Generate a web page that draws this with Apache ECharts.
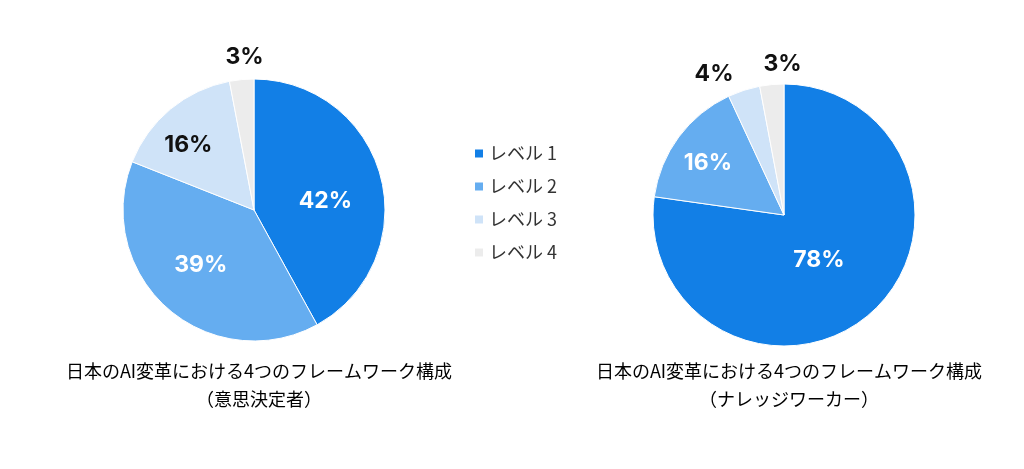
<!DOCTYPE html>
<html>
<head>
<meta charset="utf-8">
<script src="https://cdn.jsdelivr.net/npm/echarts@6/dist/echarts.min.js"></script>
<style>
  html, body { margin: 0; padding: 0; background: #fff; }
  #main { width: 1024px; height: 469px; }
</style>
</head>
<body>
<div id="main"></div>
<script>
// data
var levels = ['レベル 1', 'レベル 2', 'レベル 3', 'レベル 4'];
var deciders = [42, 39, 16, 3];      // 意思決定者
var workers = [78, 16, 4, 3];        // ナレッジワーカー
var titleMain = '日本のAI変革における4つのフレームワーク構成';
var titleSubs = ['（意思決定者）', '（ナレッジワーカー）'];

var colors = ['#127fe6', '#65adf0', '#cfe3f8', '#ececec'];

// label nudges from the default inside position (0.5R on the slice mid angle)
var nudges = [
    [[5, 8], [-8, 4], [-22, -12], [-3, -85]],
    [[-10, -7], [-21, -11], [-49, -76], [5, -83]]
];
var labelColors = [
    ['#fff', '#fff', '#111', '#111'],
    ['#fff', '#fff', '#111', '#111']
];

function buildData(values, k) {
    return values.map(function (v, i) {
        return {
            name: levels[i],
            value: v,
            itemStyle: { color: colors[i] },
            label: { color: labelColors[k][i] }
        };
    });
}

function buildSeries(values, k, center) {
    return {
        type: 'pie',
        center: center,
        radius: [0, 131],
        startAngle: 90,
        clockwise: true,
        silent: true,
        itemStyle: { borderColor: '#fff', borderWidth: 1 },
        label: {
            show: true,
            position: 'inside',
            formatter: '{c}%',
            fontFamily: 'Inter, "Noto Sans CJK JP", sans-serif',
            fontWeight: 'bold',
            fontSize: 23
        },
        labelLine: { show: false },
        labelLayout: function (p) {
            var n = nudges[k][p.dataIndex];
            return { dx: n[0], dy: n[1] };
        },
        data: buildData(values, k)
    };
}

var chart = echarts.init(document.getElementById('main'));
var titleStyle = {
    fontFamily: '"Noto Sans CJK JP", sans-serif',
    fontSize: 18,
    fontWeight: 'normal',
    color: '#000',
    lineHeight: 28
};
chart.setOption({
    backgroundColor: '#fff',
    animation: false,
    title: [
        { text: titleMain + '\n' + titleSubs[0], left: 254, top: 352, textAlign: 'center', textStyle: titleStyle },
        { text: titleMain + '\n' + titleSubs[1], left: 784, top: 352, textAlign: 'center', textStyle: titleStyle }
    ],
    legend: {
        orient: 'vertical',
        left: 468,
        top: 138,
        icon: 'rect',
        itemWidth: 10,
        itemHeight: 10,
        itemGap: 12,
        selectedMode: false,
        data: levels,
        textStyle: {
            fontFamily: '"Noto Sans CJK JP", sans-serif',
            fontSize: 18,
            color: '#333',
            lineHeight: 21
        }
    },
    series: [
        buildSeries(deciders, 0, [254, 210]),
        buildSeries(workers, 1, [784, 215])
    ]
});
</script>
</body>
</html>
